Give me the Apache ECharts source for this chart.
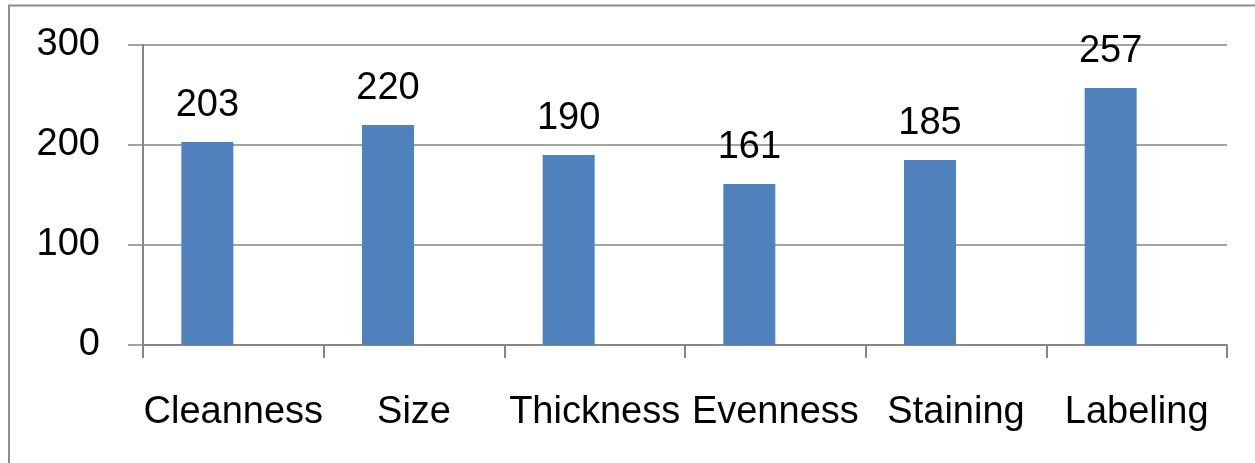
<!DOCTYPE html>
<html>
<head>
<meta charset="utf-8">
<script src="https://cdn.jsdelivr.net/npm/echarts@6/dist/echarts.min.js"></script>
<style>
  html, body { margin: 0; padding: 0; background: #fff; }
  #chart { width: 1255px; height: 463px; }
</style>
</head>
<body>
<div id="chart"></div>
<script>
// Slide-quality scores per assessment criterion
const categories = ['Cleanness', 'Size', 'Thickness', 'Evenness', 'Staining', 'Labeling'];
const scores = [203, 220, 190, 161, 185, 257];
const yTicks = [0, 100, 200, 300];

const GREY = '#868686';
const labelFont = '"Liberation Sans", Arial, sans-serif';

const chart = echarts.init(document.getElementById('chart'));
chart.setOption({
  animation: false,
  backgroundColor: '#ffffff',
  graphic: [{
    type: 'rect',
    shape: { x: 9, y: 5.5, width: 1300, height: 500 },
    style: { fill: 'none', stroke: '#8c8c8c', lineWidth: 2 },
    silent: true
  }],
  grid: { left: 143, right: 28, top: 45, bottom: 118 },
  xAxis: {
    type: 'category',
    data: categories,
    boundaryGap: true,
    axisLine: { lineStyle: { color: GREY, width: 2 } },
    axisTick: { show: true, length: 13, alignWithLabel: false, lineStyle: { color: GREY, width: 2 } },
    axisLabel: { color: '#000', fontFamily: labelFont, fontSize: 38, margin: 49, interval: 0 }
  },
  yAxis: {
    type: 'value',
    min: yTicks[0],
    max: yTicks[yTicks.length - 1],
    interval: 100,
    axisLine: { show: true, lineStyle: { color: GREY, width: 2 } },
    axisTick: { show: true, length: 15, lineStyle: { color: GREY, width: 1.5 } },
    splitLine: { show: true, lineStyle: { color: GREY, width: 1.5 } },
    axisLabel: { color: '#000', fontFamily: labelFont, fontSize: 38, margin: 43 }
  },
  series: [
    {
      name: 'Score',
      type: 'bar',
      data: scores,
      barWidth: 52,
      barGap: '0%',
      itemStyle: { color: '#4f81bd' },
      label: {
        show: true,
        position: 'top',
        distance: 17,
        color: '#000',
        fontFamily: labelFont,
        fontSize: 38
      }
    },
    {
      // empty companion series keeps each bar in the left half of its slot
      name: 'Spacer',
      type: 'bar',
      data: [],
      barWidth: 52,
      barGap: '0%'
    }
  ]
});
</script>
</body>
</html>
